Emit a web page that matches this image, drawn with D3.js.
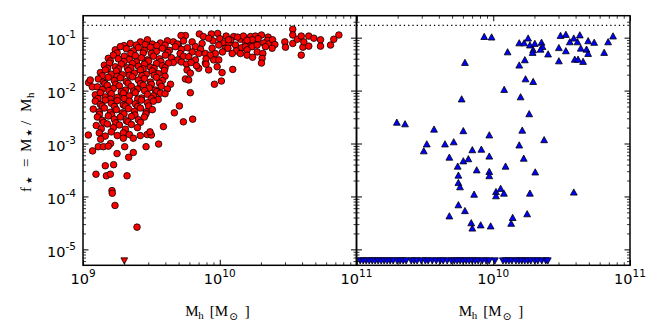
<!DOCTYPE html>
<html>
<head>
<meta charset="utf-8">
<script src="https://cdn.jsdelivr.net/npm/d3@7"></script>
<style>
  body { margin: 0; background: #fff; }
  .tick-label { font-family: "DejaVu Sans", sans-serif; font-size: 14.5px; fill: #000; }
  .axis-label { font-family: "Liberation Serif", "DejaVu Serif", serif; font-size: 15px; fill: #000; }
</style>
</head>
<body>
<svg id="chart" width="664" height="332"></svg>
<script>
var width = 664;
var height = 332;
var plotTop = 15.7, plotBottom = 265.3;
var panels = [{x0: 83, x1: 356.5}, {x0: 356.5, x1: 630}];

var xDomain = [1e9, 1e11];
var yDomain = [5e-6, 0.26];
var fBaryon = 0.17;      // dotted line
var fLimit = 6.1e-6;     // where the upper limits are drawn

// [log10 Mh, log10 f*]
var redPts = [
  [9.346,-1.11],[9.42,-1.08],[9.471,-1.04],[9.507,-1.12],[9.566,-1.10],[9.617,-1.06],[9.661,-1.08],[9.698,-1.13],[9.749,-0.96],[9.717,-0.96],
  [9.30,-1.15],[9.39,-1.14],[9.455,-1.13],[9.54,-1.15],[9.60,-1.14],[9.69,-1.12],[9.735,-1.06],
  [9.236,-1.23],[9.273,-1.17],[9.317,-1.21],[9.368,-1.25],[9.405,-1.19],[9.449,-1.24],[9.493,-1.18],[9.537,-1.26],[9.581,-1.20],[9.632,-1.24],[9.676,-1.17],[9.72,-1.22],[9.764,-1.19],
  [9.25,-1.29],[9.35,-1.30],[9.44,-1.29],[9.50,-1.30],[9.62,-1.28],[9.71,-1.30],
  [9.185,-1.39],[9.222,-1.33],[9.258,-1.40],[9.302,-1.35],[9.339,-1.41],[9.383,-1.34],[9.427,-1.38],[9.471,-1.42],[9.515,-1.35],[9.559,-1.40],[9.603,-1.33],[9.647,-1.38],[9.691,-1.42],[9.735,-1.35],
  [9.20,-1.44],[9.30,-1.45],[9.39,-1.46],[9.48,-1.44],[9.57,-1.45],[9.66,-1.47],[9.72,-1.46],
  [9.156,-1.52],[9.193,-1.48],[9.236,-1.55],[9.28,-1.50],[9.324,-1.57],[9.361,-1.49],[9.405,-1.54],[9.449,-1.50],[9.493,-1.56],[9.537,-1.49],[9.581,-1.53],[9.625,-1.48],[9.757,-1.50],
  [9.18,-1.58],[9.26,-1.59],[9.35,-1.57],[9.44,-1.59],[9.52,-1.58],[9.60,-1.57],
  [9.127,-1.66],[9.163,-1.61],[9.207,-1.69],[9.244,-1.63],[9.288,-1.70],[9.332,-1.62],[9.376,-1.67],[9.42,-1.61],[9.463,-1.69],[9.507,-1.63],[9.551,-1.68],[9.595,-1.62],
  [9.14,-1.72],[9.25,-1.73],[9.34,-1.71],[9.43,-1.72],[9.52,-1.71],[9.60,-1.73],
  [9.112,-1.78],[9.149,-1.84],[9.185,-1.75],[9.229,-1.81],[9.273,-1.76],[9.317,-1.83],[9.361,-1.74],[9.405,-1.80],[9.449,-1.77],[9.493,-1.84],[9.537,-1.75],[9.581,-1.81],[9.749,-1.78],
  [9.041,-1.85],[9.053,-1.80],[9.068,-1.93],
  [9.16,-1.87],[9.24,-1.88],[9.33,-1.86],[9.42,-1.87],[9.50,-1.88],[9.56,-1.86],[9.64,-1.88],
  [9.105,-1.93],[9.141,-1.98],[9.178,-1.90],[9.222,-1.96],[9.266,-1.91],[9.31,-1.99],[9.354,-1.92],[9.398,-1.97],[9.441,-1.90],[9.485,-1.95],[9.529,-1.99],[9.573,-1.92],[9.617,-1.97],
  [9.19,-2.00],[9.28,-2.02],[9.37,-2.01],[9.45,-2.00],[9.54,-2.02],
  [9.09,-2.08],[9.127,-2.04],[9.163,-2.12],[9.207,-2.06],[9.251,-2.13],[9.295,-2.05],[9.339,-2.10],[9.383,-2.04],[9.427,-2.14],[9.471,-2.07],[9.515,-2.10],[9.566,-2.05],[9.60,-2.06],
  [9.11,-2.15],[9.20,-2.16],[9.30,-2.15],[9.40,-2.16],[9.50,-2.15],[9.55,-2.17],
  [9.09,-2.20],[9.127,-2.26],[9.163,-2.18],[9.207,-2.24],[9.251,-2.19],[9.295,-2.27],[9.339,-2.20],[9.383,-2.25],[9.427,-2.18],[9.471,-2.23],[9.515,-2.20],[9.705,-2.29],
  [9.14,-2.29],[9.23,-2.30],[9.31,-2.29],[9.40,-2.30],[9.48,-2.29],
  [9.075,-2.35],[9.119,-2.40],[9.156,-2.33],[9.20,-2.41],[9.244,-2.36],[9.288,-2.42],[9.332,-2.34],[9.376,-2.39],[9.42,-2.33],[9.463,-2.40],[9.507,-2.36],[9.668,-2.42],
  [9.12,-2.45],[9.21,-2.46],[9.30,-2.44],[9.38,-2.46],[9.46,-2.44],
  [9.105,-2.50],[9.141,-2.56],[9.185,-2.48],[9.229,-2.54],[9.273,-2.50],[9.317,-2.57],[9.354,-2.49],[9.405,-2.55],[9.449,-2.50],[9.734,-2.59],[9.802,-2.54],
  [9.15,-2.60],[9.24,-2.61],[9.33,-2.59],[9.42,-2.60],
  [9.097,-2.66],[9.134,-2.72],[9.178,-2.63],[9.222,-2.70],[9.266,-2.65],[9.31,-2.73],[9.354,-2.64],[9.398,-2.70],[9.588,-2.68],
  [9.039,-2.84],[9.119,-2.80],[9.163,-2.86],[9.207,-2.78],[9.251,-2.85],[9.295,-2.80],[9.339,-2.83],[9.419,-2.85],[9.469,-2.83],[9.50,-2.84],[9.49,-2.78],
  [9.129,-2.92],[9.202,-3.00],[9.295,-2.90],[9.368,-2.90],[9.112,-3.06],[9.149,-3.06],[9.185,-3.05],[9.305,-3.06],[9.461,-3.06],[9.553,-3.01],
  [9.07,-3.14],[9.249,-3.19],[9.334,-3.26],[9.368,-3.17],[9.163,-3.42],[9.224,-3.40],[9.095,-3.58],[9.171,-3.61],[9.20,-3.58],[9.322,-3.61],[9.212,-3.89],[9.214,-3.94],[9.234,-4.17],[9.395,-4.58],
  [9.851,-0.93],[9.939,-0.93],[9.985,-0.92],[10.047,-0.97],[10.102,-0.98],[10.151,-1.03],[10.225,-0.98],[10.261,-0.97],[10.305,-0.95],[10.354,-0.99],
  [9.88,-0.98],[9.95,-1.06],[10.0,-1.02],[10.03,-1.10],[10.08,-1.05],[10.13,-0.99],[10.20,-1.10],[10.25,-1.10],[10.28,-1.02],[10.35,-1.05],
  [9.798,-1.08],[9.871,-1.11],[9.919,-1.01],[9.944,-1.20],[9.993,-1.14],[10.042,-1.20],[10.066,-1.11],[10.115,-1.14],[10.139,-1.23],[10.188,-1.08],[10.237,-1.04],[10.322,-1.10],[10.064,-1.04],[10.173,-0.97],[10.357,-1.12],[10.386,-1.04],
  [9.822,-1.17],[9.86,-1.22],[10.06,-1.20],[10.16,-1.19],[10.20,-1.05],[10.12,-1.25],[10.188,-1.17],[10.237,-1.17],[10.274,-1.14],[10.20,-1.23],[10.274,-1.27],
  [9.798,-1.27],[9.846,-1.30],[9.895,-1.30],[9.968,-1.30],[10.02,-1.27],[10.091,-1.30],[10.151,-1.30],[10.315,-1.30],[10.20,-1.33],[10.24,-1.37],[10.31,-1.39],[10.305,-1.48],
  [9.773,-1.36],[9.822,-1.42],[9.895,-1.48],[9.956,-1.42],[9.993,-1.42],[9.93,-1.33],[9.90,-1.40],
  [9.761,-1.61],[9.785,-1.67],[9.846,-1.58],[9.919,-1.61],[9.981,-1.55],[9.79,-1.47],[9.83,-1.53],[9.90,-1.50],
  [9.773,-1.80],[10.095,-1.60],[10.017,-1.66],[10.012,-1.82],[9.961,-1.88],[9.785,-2.04],
  [10.403,-1.13],[10.476,-1.08],[10.481,-1.18],[10.534,-0.84],[10.534,-0.95],[10.534,-1.11],[10.567,-1.03],[10.596,-0.97],[10.608,-1.18],[10.615,-1.08],
  [10.651,-0.97],[10.651,-1.16],[10.688,-1.01],[10.737,-1.04],[10.737,-1.16],[10.596,-1.33],[10.81,-1.14],[10.834,-1.03],[10.871,-0.95],[10.383,-1.20],[10.334,-1.17]
];
var redLimitMh = [9.302];

// [log10 Mh, log10 f*]
var bluePts = [
  [9.934,-0.98],[9.988,-0.99],[10.105,-1.27],[9.793,-1.47],[10.19,-1.10],[10.226,-1.10],[10.255,-1.01],[10.268,-1.14],[10.304,-1.11],[10.292,-1.23],
  [10.288,-1.28],[10.353,-1.09],[10.36,-1.17],[10.346,-1.22],[10.401,-1.31],[10.231,-1.42],[10.19,-1.52],[10.236,-1.78],[10.292,-1.83],[10.08,-1.98],
  [10.20,-2.12],[9.769,-2.16],[10.263,-2.44],[9.295,-2.60],[9.355,-2.63],[9.567,-2.73],[9.781,-2.76],[10.212,-2.75],[9.971,-2.84],[10.372,-2.93],
  [9.514,-3.01],[9.492,-3.14],[9.647,-3.01],[9.711,-2.97],[9.847,-3.12],[9.913,-3.11],[10.19,-3.03],[9.679,-3.26],[9.971,-3.24],[10.223,-3.28],
  [9.781,-3.33],[9.818,-3.29],[9.74,-3.43],[10.09,-3.43],
  [10.492,-0.96],[10.531,-0.94],[10.589,-1.01],[10.633,-0.95],[10.56,-1.08],[10.616,-1.08],[10.48,-1.19],[10.531,-1.25],[10.64,-1.20],[10.682,-1.22],
  [10.694,-1.30],[10.596,-1.41],[10.62,-1.41],[10.657,-1.45],[10.48,-1.44],[10.694,-1.06],[10.738,-1.09],[10.811,-1.28],[10.84,-1.08],[10.876,-0.97],
  [9.879,-3.50],[9.971,-3.53],[9.971,-3.61],[10.307,-3.54],[9.745,-3.60],[9.745,-3.74],[9.757,-3.82],[9.86,-3.96],[10.02,-3.91],[10.054,-3.85],
  [10.078,-3.94],[10.02,-3.99],[10.268,-3.94],[10.589,-3.92],[9.745,-4.16],[9.793,-4.27],[9.679,-4.37],[10.142,-4.40],[10.248,-4.33],[10.131,-4.51],
  [9.839,-4.50],[9.847,-4.60],[9.908,-4.54],[9.981,-4.56]
];
var blueLimitMh = [
  9.027,9.049,9.071,9.093,9.115,9.136,9.158,9.18,9.202,9.224,9.246,9.268,9.297,9.319,9.341,9.363,9.40,9.422,9.443,9.474,
  9.503,9.524,9.554,9.583,9.612,9.634,9.663,9.693,9.715,9.736,9.758,9.78,9.802,9.824,9.846,9.868,9.89,9.919,9.948,9.97,
  10.012,10.071,10.093,10.115,10.137,10.166,10.188,10.209,10.231,10.253,10.275,10.304,10.326,10.355,10.384,10.399
];

var xMajor = [1e9, 1e10, 1e11];
var xLabelsLeft = [9, 10, 11];
var xLabelsRight = [10, 11];
var yMajor = [1e-5, 1e-4, 1e-3, 1e-2, 1e-1];
var yLabels = [-5, -4, -3, -2, -1];

var svg = d3.select("#chart");
var yScale = d3.scaleLog().domain(yDomain).range([plotBottom, plotTop]);

function minorTicks(lo, hi) {
  var out = [];
  for (var p = Math.floor(Math.log10(lo)); p <= Math.ceil(Math.log10(hi)); p++) {
    for (var k = 2; k <= 9; k++) {
      var v = k * Math.pow(10, p);
      if (v > lo && v < hi) out.push(v);
    }
  }
  return out;
}
var xMinor = minorTicks(xDomain[0], xDomain[1]);
var yMinor = minorTicks(yDomain[0], yDomain[1]);

function powLabel(sel, exp) {
  sel.append("tspan").text("10");
  sel.append("tspan").attr("dy", -6.5).attr("font-size", "10.5px").text(exp < 0 ? "-" + (-exp) : exp);
}

var upTri = "M0,-3.3L3.4,2.9L-3.4,2.9Z";
var downTri = "M0,3.3L3.4,-2.9L-3.4,-2.9Z";

function drawPanel(i, pts, limits, color, marker, xLabels, showY) {
  var p = panels[i];
  var xScale = d3.scaleLog().domain(xDomain).range([p.x0, p.x1]);
  var g = svg.append("g");

  g.append("clipPath").attr("id", "clip" + i)
    .append("rect").attr("x", p.x0).attr("y", plotTop)
    .attr("width", p.x1 - p.x0).attr("height", plotBottom - plotTop);

  var plot = g.append("g").attr("clip-path", "url(#clip" + i + ")");

  // dotted baryon fraction
  plot.append("line")
    .attr("x1", p.x0).attr("x2", p.x1)
    .attr("y1", yScale(fBaryon)).attr("y2", yScale(fBaryon))
    .attr("stroke", "#000").attr("stroke-width", 1.3).attr("stroke-dasharray", "1.3,3");

  if (marker == "circle") {
    plot.selectAll(".pt").data(pts).enter().append("circle")
      .attr("cx", d => xScale(Math.pow(10, d[0])))
      .attr("cy", d => yScale(Math.pow(10, d[1])))
      .attr("r", 3.3)
      .attr("fill", color).attr("stroke", "#000").attr("stroke-width", 0.8);
  } else {
    plot.selectAll(".pt").data(pts).enter().append("path")
      .attr("d", upTri)
      .attr("transform", d => "translate(" + xScale(Math.pow(10, d[0])) + "," + yScale(Math.pow(10, d[1])) + ")")
      .attr("fill", color).attr("stroke", "#000").attr("stroke-width", 0.8);
  }
  plot.selectAll(".lim").data(limits).enter().append("path")
    .attr("d", downTri)
    .attr("transform", d => "translate(" + xScale(Math.pow(10, d)) + "," + yScale(fLimit) + ")")
    .attr("fill", color).attr("stroke", "#000").attr("stroke-width", 0.8);

  // ticks on all four sides, pointing inwards
  var sides = [
    [d3.axisBottom, xScale, "translate(0," + plotBottom + ")", xMajor, xMinor],
    [d3.axisTop, xScale, "translate(0," + plotTop + ")", xMajor, xMinor],
    [d3.axisLeft, yScale, "translate(" + p.x0 + ",0)", yMajor, yMinor],
    [d3.axisRight, yScale, "translate(" + p.x1 + ",0)", yMajor, yMinor]
  ];
  sides.forEach(function(a) {
    g.append("g").attr("transform", a[2])
      .call(a[0](a[1]).tickValues(a[3]).tickSizeInner(-5.5).tickSizeOuter(0).tickFormat(""))
      .call(s => s.select(".domain").remove())
      .selectAll("line").attr("stroke", "#000").attr("stroke-width", 1);
    g.append("g").attr("transform", a[2])
      .call(a[0](a[1]).tickValues(a[4]).tickSizeInner(-3).tickSizeOuter(0).tickFormat(""))
      .call(s => s.select(".domain").remove())
      .selectAll("line").attr("stroke", "#000").attr("stroke-width", 0.8);
  });

  // frame
  g.append("rect")
    .attr("x", p.x0).attr("y", plotTop)
    .attr("width", p.x1 - p.x0).attr("height", plotBottom - plotTop)
    .attr("fill", "none").attr("stroke", "#000").attr("stroke-width", 1.5);

  // x tick labels
  xLabels.forEach(function(e) {
    var t = g.append("text").attr("class", "tick-label")
      .attr("x", xScale(Math.pow(10, e))).attr("y", 283.5)
      .attr("text-anchor", "middle");
    powLabel(t, e);
  });

  if (showY) {
    yLabels.forEach(function(e) {
      var t = g.append("text").attr("class", "tick-label")
        .attr("x", p.x0 - 7).attr("y", yScale(Math.pow(10, e)) + 7.3)
        .attr("text-anchor", "end");
      powLabel(t, e);
    });
  }

  // x axis label: M_h [M_sun]
  var cx = (p.x0 + p.x1) / 2;
  var xl = g.append("text").attr("class", "axis-label").attr("y", 315.7);
  xl.append("tspan").attr("x", cx - 34.5).text("M");
  xl.append("tspan").attr("x", cx - 21.5).attr("dy", 3).attr("font-size", "11px").text("h");
  xl.append("tspan").attr("x", cx - 10).attr("dy", -3).text("[M");
  xl.append("tspan").attr("x", cx + 9.5).attr("dy", 4).attr("font-size", "10.5px").attr("font-family", "DejaVu Sans").text("\u2299");
  xl.append("tspan").attr("x", cx + 25).attr("dy", -4).text("]");
}

drawPanel(0, redPts, redLimitMh, "#ff0000", "circle", xLabelsLeft, true);
drawPanel(1, bluePts, blueLimitMh, "#0000ff", "triangle", xLabelsRight, false);

// y axis label: f* = M*/M_h, reading upwards from y=192
var yl = svg.append("text").attr("class", "axis-label")
  .attr("transform", "translate(31,192) rotate(-90)");
yl.append("tspan").attr("x", 0).text("f");
yl.append("tspan").attr("x", 8).attr("dy", 1).attr("font-size", "8.5px").attr("font-family", "DejaVu Sans").text("\u2605");
yl.append("tspan").attr("x", 25).attr("dy", -1).text("=");
yl.append("tspan").attr("x", 40).text("M");
yl.append("tspan").attr("x", 55.5).attr("dy", 1).attr("font-size", "8.5px").attr("font-family", "DejaVu Sans").text("\u2605");
yl.append("tspan").attr("x", 67).attr("dy", -1).text("/");
yl.append("tspan").attr("x", 80).text("M");
yl.append("tspan").attr("x", 94).attr("dy", 3).attr("font-size", "11px").text("h");
</script>
</body>
</html>
